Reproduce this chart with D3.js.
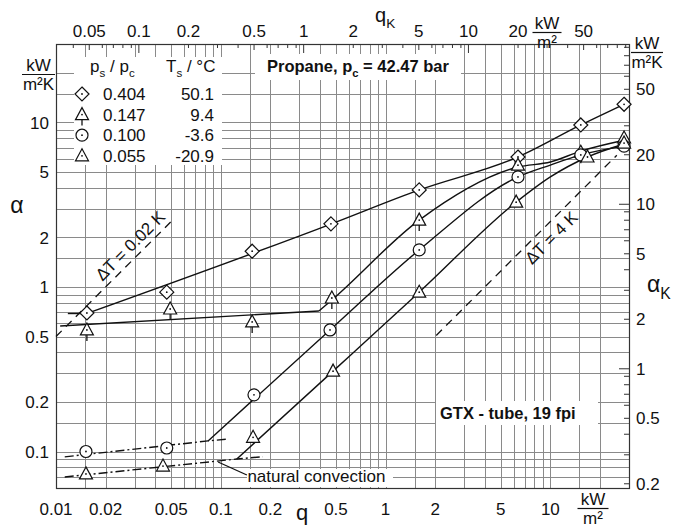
<!DOCTYPE html>
<html>
<head>
<meta charset="utf-8">
<script src="https://cdn.jsdelivr.net/npm/d3@7"></script>
<style>
  body { margin: 0; background: #fff; }
  svg text { font-family: 'Liberation Sans', Arial, sans-serif; fill: #111; }
</style>
</head>
<body>
<div id="chart"></div>
<script>
// axis ticks
const qTicks = [0.01, 0.02, 0.05, 0.1, 0.2, 0.5, 1, 2, 5, 10]
const alphaTicks = [0.1, 0.2, 0.5, 1, 2, 5, 10]
const qKTicks = [0.05, 0.1, 0.2, 0.5, 1, 2, 5, 10, 20, 50]
const alphaKTicks = [0.2, 0.5, 1, 2, 5, 10, 20, 50]
const gridMantissas = [1, 1.5, 2, 3, 4, 5, 6, 7, 8, 9]
const tickMantissas = [1, 2, 3, 4, 5, 6, 7, 8, 9]

// legend
const psRatio = ['0.404', '0.147', '0.100', '0.055']
const satTemp = ['50.1', '9.4', '-3.6', '-20.9']
const symbols = ['diamond', 'triTick', 'circle', 'triangle']

// measured points (q in kW/m2, alpha in kW/m2K)
const q404 = [0.0154, 0.047, 0.155, 0.466, 1.6, 6.36, 15.3, 28]
const a404 = [0.695, 0.93, 1.65, 2.42, 3.89, 6.17, 9.66, 12.9]
const q147 = [0.0154, 0.0493, 0.155, 0.472, 1.6, 6.36, 15.3, 28]
const a147 = [0.548, 0.735, 0.613, 0.857, 2.55, 5.5, 6.6, 8.05]
const q100 = [0.0152, 0.047, 0.159, 0.46, 1.6, 6.36, 15.3, 28]
const a100 = [0.1, 0.105, 0.221, 0.548, 1.68, 4.67, 6.35, 7.18]
const q055 = [0.0152, 0.0446, 0.157, 0.48, 1.6, 6.2, 16.8, 28]
const a055 = [0.0731, 0.0816, 0.122, 0.308, 0.93, 3.28, 6.17, 7.5]

// fitted curves: straight pieces and smooth pieces
const stub404Q = [0.0118, 0.0154]
const stub404A = [0.69, 0.69]
const fit404Q = [0.0154, 0.47, 1.6, 6.36, 15.3, 28]
const fit404A = [0.69, 2.42, 3.89, 6.17, 9.66, 12.9]
const low147Q = [0.0106, 0.394]
const low147A = [0.579, 0.715]
const fit147Q = [0.394, 0.472, 1.6, 6.36, 10, 15.3, 28]
const fit147A = [0.715, 0.834, 2.55, 5.36, 5.75, 6.7, 7.8]
const fit100Q = [0.0837, 0.46, 1.6, 6.36, 10, 15.3, 28]
const fit100A = [0.116, 0.548, 1.68, 4.67, 5.51, 6.35, 7.18]
const fit055Q = [0.125, 0.48, 1.6, 6.2, 10, 16.8, 28]
const fit055A = [0.09, 0.308, 0.93, 3.28, 4.67, 6.17, 7.4]
// natural convection (dash-dot)
const conv100Q = [0.0113, 0.0837, 0.111]
const conv100A = [0.0928, 0.116, 0.119]
const conv055Q = [0.0113, 0.125, 0.18]
const conv055A = [0.07, 0.09, 0.093]

// constant superheat lines, dT = q / alpha
const dtLines = [
  { dT: 0.02, q0: 0.01, q1: 0.0506, qLabel: 0.0317, label: 'ΔT = 0.02 K', side: -1 },
  { dT: 4, q0: 2.03, q1: 25.3, qLabel: 9.0, label: 'ΔT = 4 K', side: 1 }
]

const width = 676
const height = 528
const margin = { top: 44, right: 47, bottom: 40, left: 56 }
const kFactor = Math.PI // q_K = pi q, alpha_K = pi alpha

const x = d3.scaleLog().domain([0.01, 30]).range([margin.left, width - margin.right])
const y = d3.scaleLog().domain([0.06, 30]).range([height - margin.bottom, margin.top])
const xK = d3.scaleLog().domain(x.domain().map(d => d * kFactor)).range(x.range())
const yK = d3.scaleLog().domain(y.domain().map(d => d * kFactor)).range(y.range())

const x0 = margin.left
const x1 = width - margin.right
const y0 = margin.top
const y1 = height - margin.bottom

const svg = d3.select('#chart').append('svg')
  .attr('width', width)
  .attr('height', height)

function logValues (domain, mantissas) {
  const [lo, hi] = domain
  const out = []
  for (let e = Math.floor(Math.log10(lo)); e <= Math.ceil(Math.log10(hi)); e++) {
    mantissas.forEach(m => {
      const v = +(m * Math.pow(10, e)).toPrecision(6)
      if (v >= lo * 0.999 && v <= hi * 1.001) out.push({ v, m })
    })
  }
  return out
}

// grid
const grid = svg.append('g').attr('stroke', '#8a8a8a').attr('stroke-width', 1)
grid.selectAll('.v').data(logValues(x.domain(), gridMantissas)).enter()
  .append('line')
  .attr('x1', d => Math.round(x(d.v)) + 0.5).attr('x2', d => Math.round(x(d.v)) + 0.5)
  .attr('y1', y0).attr('y2', y1)
grid.selectAll('.h').data(logValues(y.domain(), gridMantissas)).enter()
  .append('line')
  .attr('y1', d => Math.round(y(d.v)) + 0.5).attr('y2', d => Math.round(y(d.v)) + 0.5)
  .attr('x1', x0).attr('x2', x1)

// white label boxes
const boxes = [
  [74, 57, 148, 108],
  [255, 54, 206, 26],
  [436, 401, 162, 24],
  [247, 469, 146, 18]
]
svg.append('g').selectAll('rect').data(boxes).enter()
  .append('rect')
  .attr('x', d => d[0]).attr('y', d => d[1])
  .attr('width', d => d[2]).attr('height', d => d[3])
  .attr('fill', '#fff')

// frame
svg.append('rect')
  .attr('x', x0 + 0.5).attr('y', y0 + 0.5)
  .attr('width', x1 - x0).attr('height', y1 - y0)
  .attr('fill', 'none').attr('stroke', '#333').attr('stroke-width', 1.2)

// top ticks (q_K), right ticks (alpha_K), inward
svg.append('g').attr('stroke', '#333')
  .selectAll('line').data(logValues(xK.domain(), tickMantissas)).enter()
  .append('line')
  .attr('x1', d => xK(d.v)).attr('x2', d => xK(d.v))
  .attr('y1', y0).attr('y2', d => y0 + (d.m === 1 ? 9 : d.m === 5 ? 6 : 4))
svg.append('g').attr('stroke', '#333')
  .selectAll('line').data(logValues(yK.domain(), tickMantissas)).enter()
  .append('line')
  .attr('y1', d => yK(d.v)).attr('y2', d => yK(d.v))
  .attr('x1', x1).attr('x2', d => x1 - (d.m === 1 ? 10 : 5))

// tick labels
const fmt = d => String(d)
svg.append('g').selectAll('text').data(qTicks).enter()
  .append('text')
  .attr('x', d => x(d)).attr('y', 515)
  .attr('text-anchor', 'middle').attr('font-size', 17)
  .text(fmt)
svg.append('g').selectAll('text').data(qKTicks).enter()
  .append('text')
  .attr('x', d => xK(d)).attr('y', 37)
  .attr('text-anchor', 'middle').attr('font-size', 17)
  .text(fmt)
svg.append('g').selectAll('text').data(alphaTicks).enter()
  .append('text')
  .attr('x', 49).attr('y', d => y(d)).attr('dy', '0.36em')
  .attr('text-anchor', 'end').attr('font-size', 17)
  .text(fmt)
svg.append('g').selectAll('text').data(alphaKTicks).enter()
  .append('text')
  .attr('x', 636).attr('y', d => yK(d)).attr('dy', '0.36em')
  .attr('font-size', 17)
  .text(fmt)

// text with subscripts: parts = [[string, isSub], ...]
function richText (g, px, py, parts, size, opts = {}) {
  const t = g.append('text').attr('x', px).attr('y', py).attr('font-size', size)
  if (opts.weight) t.attr('font-weight', opts.weight)
  if (opts.anchor) t.attr('text-anchor', opts.anchor)
  let shifted = false
  parts.forEach(([s, sub]) => {
    const span = t.append('tspan').text(s)
    if (sub && !shifted) {
      span.attr('dy', size * 0.3).attr('font-size', size * 0.68)
      shifted = true
    } else if (sub) {
      span.attr('font-size', size * 0.68)
    } else if (shifted) {
      span.attr('dy', -size * 0.3)
      shifted = false
    }
  })
  return t
}

function fraction (g, cx, top, num, den, lineW) {
  g.append('text').attr('x', cx).attr('y', top).attr('text-anchor', 'middle').attr('font-size', 17).text(num)
  g.append('line').attr('x1', cx - lineW / 2).attr('x2', cx + lineW / 2)
    .attr('y1', top + 3.5).attr('y2', top + 3.5).attr('stroke', '#111').attr('stroke-width', 1.2)
  g.append('text').attr('x', cx).attr('y', top + 19).attr('text-anchor', 'middle').attr('font-size', 17).text(den)
}

const labels = svg.append('g')
fraction(labels, 38.5, 71, 'kW', 'm²K', 33)
fraction(labels, 647, 49, 'kW', 'm²K', 32)
fraction(labels, 547, 29, 'kW', 'm²', 29)
fraction(labels, 593, 505, 'kW', 'm²', 31)

labels.append('text').attr('x', 17).attr('y', 213).attr('text-anchor', 'middle').attr('font-size', 23).text('α')
richText(labels, 647, 292, [['α'], ['K', true]], 23)
labels.append('text').attr('x', 302).attr('y', 520).attr('text-anchor', 'middle').attr('font-size', 22).text('q')
richText(labels, 375, 22, [['q'], ['K', true]], 20)

richText(labels, 267, 72, [['Propane, p'], ['c', true], [' = 42.47 bar']], 16.5, { weight: 'bold' })
labels.append('text').attr('x', 440).attr('y', 419).attr('font-size', 16.5).attr('font-weight', 'bold').text('GTX - tube, 19 fpi')

// superheat lines
const dtG = svg.append('g')
dtLines.forEach(l => {
  dtG.append('line')
    .attr('x1', x(l.q0)).attr('y1', y(l.q0 / l.dT))
    .attr('x2', x(l.q1)).attr('y2', y(l.q1 / l.dT))
    .attr('stroke', '#111').attr('stroke-width', 1.3).attr('stroke-dasharray', '8,6')
  const px = x(l.qLabel)
  const py = y(l.qLabel / l.dT)
  const ang = Math.atan2(y(l.q1 / l.dT) - y(l.q0 / l.dT), x(l.q1) - x(l.q0)) * 180 / Math.PI
  dtG.append('text')
    .attr('transform', `translate(${px},${py}) rotate(${ang})`)
    .attr('text-anchor', 'middle').attr('font-size', 17)
    .attr('dy', l.side < 0 ? -6 : 18)
    .text(l.label)
})

// fitted curves
const zip = (qs, as) => qs.map((q, i) => [q, as[i]])
const straight = d3.line().x(d => x(d[0])).y(d => y(d[1]))
const smooth = d3.line().x(d => x(d[0])).y(d => y(d[1])).curve(d3.curveMonotoneX)
const curves = svg.append('g').attr('fill', 'none').attr('stroke', '#111').attr('stroke-width', 1.4)
;[[stub404Q, stub404A], [low147Q, low147A]].forEach(([qs, as]) => {
  curves.append('path').attr('d', straight(zip(qs, as)))
})
;[[fit404Q, fit404A], [fit147Q, fit147A], [fit100Q, fit100A], [fit055Q, fit055A]].forEach(([qs, as]) => {
  curves.append('path').attr('d', smooth(zip(qs, as)))
})
;[[conv100Q, conv100A], [conv055Q, conv055A]].forEach(([qs, as]) => {
  curves.append('path').attr('d', straight(zip(qs, as))).attr('stroke-dasharray', '9,3,2,3')
})

// natural convection annotation
svg.append('line')
  .attr('x1', x(0.0963)).attr('y1', y(0.0863))
  .attr('x2', x(0.144)).attr('y2', y(0.072))
  .attr('stroke', '#111').attr('stroke-width', 1.3)
svg.append('text').attr('x', x(0.145)).attr('y', 482).attr('font-size', 17).text('natural convection')

// markers
function drawMarker (g, type) {
  const s = { fill: '#fff', stroke: '#111', 'stroke-width': 1.2 }
  let shape
  if (type === 'diamond') shape = g.append('path').attr('d', 'M0,-7L7,0L0,7L-7,0Z')
  else if (type === 'circle') shape = g.append('circle').attr('r', 6)
  else shape = g.append('path').attr('d', 'M0,-7L6.5,5L-6.5,5Z')
  Object.entries(s).forEach(([k, v]) => shape.attr(k, v))
  if (type === 'triTick') g.append('line').attr('x1', 0).attr('x2', 0).attr('y1', 5).attr('y2', 11).attr('stroke', '#111').attr('stroke-width', 1.3)
  g.append('circle').attr('r', 0.9).attr('fill', '#111')
}

const series = [[q404, a404], [q147, a147], [q100, a100], [q055, a055]]
series.forEach(([qs, as], i) => {
  svg.append('g').selectAll('g').data(zip(qs, as)).enter()
    .append('g')
    .attr('transform', d => `translate(${x(d[0])},${y(d[1])})`)
    .each(function () { drawMarker(d3.select(this), symbols[i]) })
})

// legend
const legend = svg.append('g')
richText(legend, 90, 72, [['p'], ['s', true], [' / p'], ['c', true]], 17)
richText(legend, 166, 72, [['T'], ['s', true], [' / °C']], 17)
psRatio.forEach((p, i) => {
  const base = 100 + i * 20.6
  drawMarker(legend.append('g').attr('transform', `translate(82,${base - 6})`), symbols[i])
  legend.append('text').attr('x', 103).attr('y', base).attr('font-size', 17).text(p)
  legend.append('text').attr('x', 214).attr('y', base).attr('font-size', 17).attr('text-anchor', 'end').text(satTemp[i])
})
</script>
</body>
</html>
